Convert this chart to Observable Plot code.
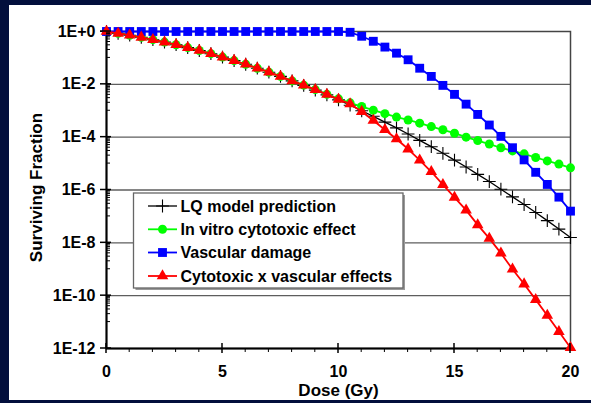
<!DOCTYPE html>
<html><head><meta charset="utf-8">
<script src="https://cdn.jsdelivr.net/npm/d3@7"></script>
<script src="https://cdn.jsdelivr.net/npm/@observablehq/plot@0.6"></script>
<style>
html,body{margin:0;padding:0;background:#020f3c;width:591px;height:403px;overflow:hidden;}
#panel{position:absolute;left:9px;top:5px;width:582px;height:395px;background:#fff;}
</style></head><body><div id="panel"></div>
<script>
// Dose (Gy)
const doses = [0,0.5,1,1.5,2,2.5,3,3.5,4,4.5,5,5.5,6,6.5,7,7.5,8,8.5,9,9.5,10,10.5,11,11.5,12,12.5,13,13.5,14,14.5,15,15.5,16,16.5,17,17.5,18,18.5,19,19.5,20];
// log10 of surviving fraction
const lqLog = [0,-0.07,-0.14,-0.22,-0.31,-0.40,-0.50,-0.61,-0.72,-0.84,-0.97,-1.10,-1.24,-1.39,-1.54,-1.70,-1.87,-2.04,-2.22,-2.40,-2.59,-2.79,-3.00,-3.21,-3.43,-3.65,-3.88,-4.12,-4.36,-4.61,-4.87,-5.13,-5.41,-5.68,-5.97,-6.26,-6.55,-6.85,-7.16,-7.48,-7.80];
const inVitroLog = [0,-0.07,-0.14,-0.22,-0.31,-0.40,-0.50,-0.61,-0.72,-0.84,-0.97,-1.10,-1.24,-1.39,-1.54,-1.70,-1.87,-2.03,-2.20,-2.38,-2.55,-2.70,-2.84,-2.98,-3.11,-3.24,-3.35,-3.47,-3.60,-3.72,-3.85,-4.00,-4.13,-4.26,-4.40,-4.52,-4.63,-4.77,-4.90,-5.02,-5.16];
const vascularLog = [0,0,0,0,0,0,0,0,0,0,0,0,0,0,0,0,0,0,0,0,0,-0.03,-0.18,-0.37,-0.59,-0.82,-1.07,-1.39,-1.70,-2.04,-2.38,-2.75,-3.14,-3.54,-3.97,-4.40,-4.86,-5.33,-5.79,-6.27,-6.80];
const combinedLog = [0,-0.07,-0.14,-0.22,-0.31,-0.40,-0.50,-0.61,-0.72,-0.84,-0.97,-1.10,-1.24,-1.39,-1.54,-1.70,-1.87,-2.03,-2.20,-2.38,-2.57,-2.74,-3.03,-3.37,-3.72,-4.07,-4.45,-4.87,-5.31,-5.80,-6.28,-6.76,-7.32,-7.83,-8.39,-9.00,-9.56,-10.15,-10.75,-11.36,-11.97];

const seriesNames = ["LQ model prediction","In vitro cytotoxic effect","Vascular damage","Cytotoxic x vascular effects"];
const seriesColors = ["#000000","#00ff00","#0000ff","#ff0000"];
const seriesSymbols = ["plus","circle","square","triangle"];
const seriesValues = [lqLog, inVitroLog, vascularLog, combinedLog];

const yTickValues = [1,1e-2,1e-4,1e-6,1e-8,1e-10,1e-12];
const yTickLabels = ["1E+0","1E-2","1E-4","1E-6","1E-8","1E-10","1E-12"];
const yGridValues = [1e-2,1e-4,1e-6,1e-8,1e-10];
const yMinorMantissas = [1,2,3,4,5,6,7,8,9];
const yMinorExponents = [-1,-3,-5,-7,-9,-11];
const xTickValues = [0,5,10,15,20];
const xMinorValues = [1,2,3,4,6,7,8,9,11,12,13,14,16,17,18,19];

const yMinor = yMinorExponents.flatMap(e => yMinorMantissas.map(m => m * Math.pow(10, e)));

const series = seriesNames.map((name, s) => doses.map((d, i) => ({dose: d, sf: Math.pow(10, seriesValues[s][i]), series: name})));

const symbolR = {plus: 4.2, circle: 4.5, square: 5, triangle: 4.3};

const marks = [
  Plot.ruleY(yGridValues, {stroke: "#5e5e5e", strokeWidth: 1.3}),
  Plot.frame({stroke: "#444", strokeWidth: 1.5}),
  Plot.ruleX([0], {stroke: "#000", strokeWidth: 2}),
  Plot.ruleY([1e-12], {stroke: "#000", strokeWidth: 2}),
  Plot.text(["Dose (Gy)"], {text: d => d, frameAnchor: "bottom", dy: 42, lineAnchor: "middle", fontSize: 17, fontWeight: "bold", fill: "#000"}),
  Plot.text(["Surviving Fraction"], {text: d => d, frameAnchor: "left", rotate: -90, dx: -70, dy: -2.5, lineAnchor: "middle", textAnchor: "middle", fontSize: 17, fontWeight: "bold", fill: "#000"})
];

series.forEach((data, s) => {
  const sym = seriesSymbols[s];
  marks.push(Plot.line(data, {x: "dose", y: "sf", stroke: seriesColors[s], strokeWidth: s === 0 ? 1.3 : 1.8}));
  if (sym === "plus") {
    marks.push(Plot.dot(data, {x: "dose", y: "sf", symbol: sym, r: symbolR[sym], stroke: seriesColors[s], strokeWidth: 1.1}));
  } else {
    marks.push(Plot.dot(data, {x: "dose", y: "sf", symbol: sym, r: symbolR[sym], fill: seriesColors[s], stroke: "none"}));
  }
});

const chart = Plot.plot({
  width: 582,
  height: 395,
  marginLeft: 97,
  marginRight: 21,
  marginTop: 26,
  marginBottom: 52,
  style: {fontFamily: "'Liberation Sans', Arial, sans-serif", fontSize: "16px", fontWeight: "bold", background: "#fff", color: "#000", overflow: "visible"},
  x: {domain: [0, 20], ticks: xTickValues, tickSize: 0, tickPadding: 17, label: null},
  y: {type: "log", domain: [1e-12, 1], ticks: yTickValues, tickFormat: d => yTickLabels[yTickValues.indexOf(d)], tickSize: 0, tickPadding: 11, label: null},
  marks
});

const svg = d3.select(chart.tagName.toLowerCase() === "svg" ? chart : chart.querySelector("svg"));
const xs = chart.scale("x"), ys = chart.scale("y");
const left = 97, bottom = 343;
// axis tick lines placed through Plot's scales
const tg = svg.append("g").attr("stroke", "#000");
yTickValues.forEach(v => tg.append("line").attr("x1", left - 6).attr("x2", left + 5).attr("y1", ys.apply(v)).attr("y2", ys.apply(v)).attr("stroke-width", 1.5));
yMinor.forEach(v => tg.append("line").attr("x1", left).attr("x2", left + 4).attr("y1", ys.apply(v)).attr("y2", ys.apply(v)).attr("stroke-width", 1));
xTickValues.forEach(v => tg.append("line").attr("y1", bottom - 5).attr("y2", bottom + 5).attr("x1", xs.apply(v)).attr("x2", xs.apply(v)).attr("stroke-width", 1.5));
xMinorValues.forEach(v => tg.append("line").attr("y1", bottom).attr("y2", bottom + 4).attr("x1", xs.apply(v)).attr("x2", xs.apply(v)).attr("stroke-width", 1));

// Legend box (layout only)
const lg = svg.append("g");
const bx = 124.5, by = 188, bw = 269.5, bh = 95;
lg.append("rect").attr("x", bx + 2).attr("y", by + 2).attr("width", bw).attr("height", bh).attr("fill", "#9a9a9a");
lg.append("rect").attr("x", bx).attr("y", by).attr("width", bw).attr("height", bh).attr("fill", "#fff").attr("stroke", "#666").attr("stroke-width", 1.3);
const rowY = [201, 224.3, 247.5, 271];
const symMap = {plus: d3.symbolPlus, circle: d3.symbolCircle, square: d3.symbolSquare, triangle: d3.symbolTriangle};
seriesNames.forEach((name, s) => {
  const y = rowY[s];
  const sym = seriesSymbols[s];
  lg.append("line").attr("x1", 139).attr("x2", 168).attr("y1", y).attr("y2", y).attr("stroke", seriesColors[s]).attr("stroke-width", s === 0 ? 1.3 : 1.8);
  const p = lg.append("path").attr("transform", `translate(153.5,${y})`)
    .attr("d", d3.symbol(symMap[sym], Math.PI * symbolR[sym] * symbolR[sym])());
  if (sym === "plus") p.attr("fill", "none").attr("stroke", seriesColors[s]).attr("stroke-width", 1.1);
  else p.attr("fill", seriesColors[s]);
  lg.append("text").attr("x", 171.5).attr("y", y).attr("dy", "0.35em").attr("text-anchor", "start")
    .attr("font-size", 16).attr("font-weight", "bold").attr("fill", "#000").text(name);
});

document.getElementById("panel").appendChild(chart);
</script>
</body></html>
